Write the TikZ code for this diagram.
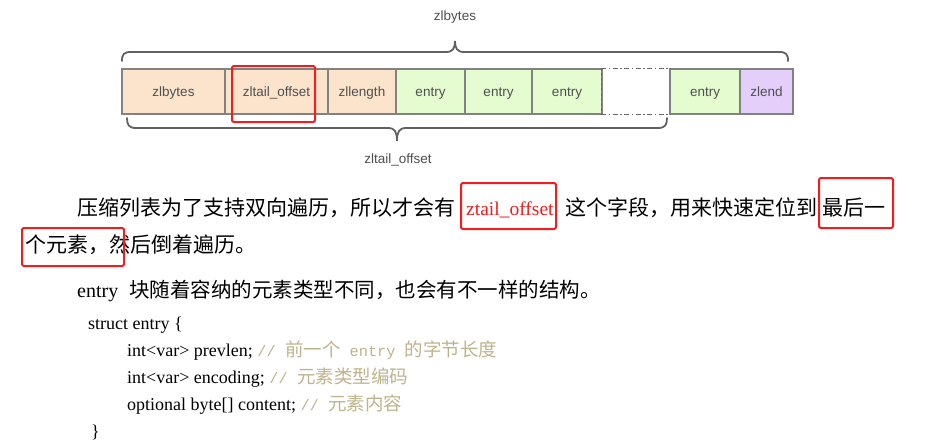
\documentclass[tikz,border=0pt]{standalone}
\usepackage{fontspec}
\setmainfont{Liberation Serif}
\newfontfamily\cjk{Noto Sans CJK SC}
\newfontfamily\diag{Liberation Sans}
\newfontfamily\mono{Liberation Mono}
\definecolor{peach}{RGB}{252,228,204}
\definecolor{lgreen}{RGB}{228,252,208}
\definecolor{lpurple}{RGB}{228,206,250}
\definecolor{bordergrey}{RGB}{130,130,130}
\definecolor{dashgrey}{RGB}{105,105,105}
\definecolor{labelgrey}{RGB}{80,80,80}
\definecolor{cmt}{RGB}{190,180,140}
\definecolor{markred}{RGB}{240,30,30}
\begin{document}
\begin{tikzpicture}[x=1pt,y=-1pt,
  cell/.style={draw=bordergrey, line width=1.3pt, minimum height=45pt, inner sep=0pt,
    text height=10pt, text depth=0pt,
    font=\diag\fontsize{13.5pt}{15pt}\selectfont, text=labelgrey},
  bracepath/.style={draw=labelgrey!90, line width=1.8pt, line cap=round},
  bracelabel/.style={font=\diag\fontsize{13.5pt}{15pt}\selectfont, text=labelgrey, inner sep=0pt},
  redmark/.style={draw=markred, line width=2pt, rounded corners=2pt},
  dashdot/.style={dashgrey, line width=1.4pt, dash pattern=on 5pt off 2.5pt on 1.5pt off 2.5pt},
  para/.style={anchor=base west, inner sep=0pt, font=\cjk\fontsize{21pt}{24pt}\selectfont},
  code/.style={anchor=base west, inner sep=0pt, font=\fontsize{18pt}{20pt}\selectfont}]
\useasboundingbox (0,0) rectangle (927,445);
\fill[white] (0,0) rectangle (927,445);

% cells
\node[cell, fill=peach, minimum width=103pt] (b1) at (173.5,91.5) {zlbytes};
\node[cell, fill=peach, minimum width=103pt] (b2) at (276.5,91.5) {zltail\_offset};
\node[cell, fill=peach, minimum width=68pt] (b3) at (362,91.5) {zllength};
\node[cell, fill=lgreen, minimum width=69pt] (b4) at (430.5,91.5) {entry};
\node[cell, fill=lgreen, minimum width=67pt] (b5) at (498.5,91.5) {entry};
\node[cell, fill=lgreen, minimum width=70pt] (b6) at (567,91.5) {entry};
\node[cell, draw=none, minimum width=68pt] (b7) at (636,91.5) {};
\node[cell, fill=lgreen, minimum width=70pt] (b8) at (705,91.5) {entry};
\node[cell, fill=lpurple, minimum width=53pt] (b9) at (766.5,91.5) {zlend};
\draw[dashdot] (b7.north west) -- (b7.north east);
\draw[dashdot] (b7.south west) -- (b7.south east);
\draw[dashgrey, line width=1.3pt, dash pattern=on 3pt off 2pt] (b7.north west) -- (b7.south west);

% braces
\draw[bracepath] (122,61) .. controls (122,54) and (124,52) .. (131,52) -- (446,52)
  .. controls (453,52) and (455,48) .. (455,41) .. controls (455,48) and (457,52) .. (464,52)
  -- (779,52) .. controls (786,52) and (788,54) .. (788,61);
\node[bracelabel] (topl) at (455,17) {zlbytes};
\draw[bracepath] (127,118) .. controls (127,125) and (129,128) .. (136,128) -- (388,128)
  .. controls (395,128) and (397,132) .. (397,141) .. controls (397,132) and (399,128) .. (406,128)
  -- (658,128) .. controls (665,128) and (667,125) .. (667,118);
\node[bracelabel] (botl) at (398,160) {zltail\_offset};

\draw[redmark] (232,66) rectangle (315,122);

% paragraph
\node[para] (p1a) at (77,215) {压缩列表为了支持双向遍历，所以才会有};
\node[para, font=\fontsize{19.5pt}{22pt}\selectfont, text=markred] (p1b) at (466,215) {ztail\_offset};
\node[para] (p1c) at (565,215) {这个字段，用来快速定位到};
\node[para] (p1d) at (822,215) {最后一};
\node[para] (p2) at (25,252) {个元素，然后倒着遍历。};
\node[para, font=\fontsize{20pt}{22pt}\selectfont] (p3a) at (77,297) {entry};
\node[para, font=\cjk\fontsize{20.5pt}{22pt}\selectfont] (p3b) at (129,297) {块随着容纳的元素类型不同，也会有不一样的结构。};

\draw[redmark] (461,183) rectangle (556,229);
\draw[redmark] (819,178) rectangle (893,228);
\draw[redmark] (22,228) rectangle (124,266);

% code
\node[code] (c1) at (88,329) {struct entry \{};
\node[code] (c2) at (127,356) {int<var> prevlen; {\color{cmt}\mono\fontsize{15.3pt}{18pt}\selectfont//\ {\cjk\fontsize{18.5pt}{20pt}\selectfont 前一个} entry {\cjk\fontsize{18.5pt}{20pt}\selectfont 的字节长度}}};
\node[code] (c3) at (127,383) {int<var> encoding; {\color{cmt}\mono\fontsize{15.3pt}{18pt}\selectfont//\ {\cjk\fontsize{18.5pt}{20pt}\selectfont 元素类型编码}}};
\node[code] (c4) at (127,410) {optional byte[] content; {\color{cmt}\mono\fontsize{15.3pt}{18pt}\selectfont//\ {\cjk\fontsize{18.5pt}{20pt}\selectfont 元素内容}}};
\node[code] (c5) at (91,437) {\}};
\end{tikzpicture}
\end{document}
